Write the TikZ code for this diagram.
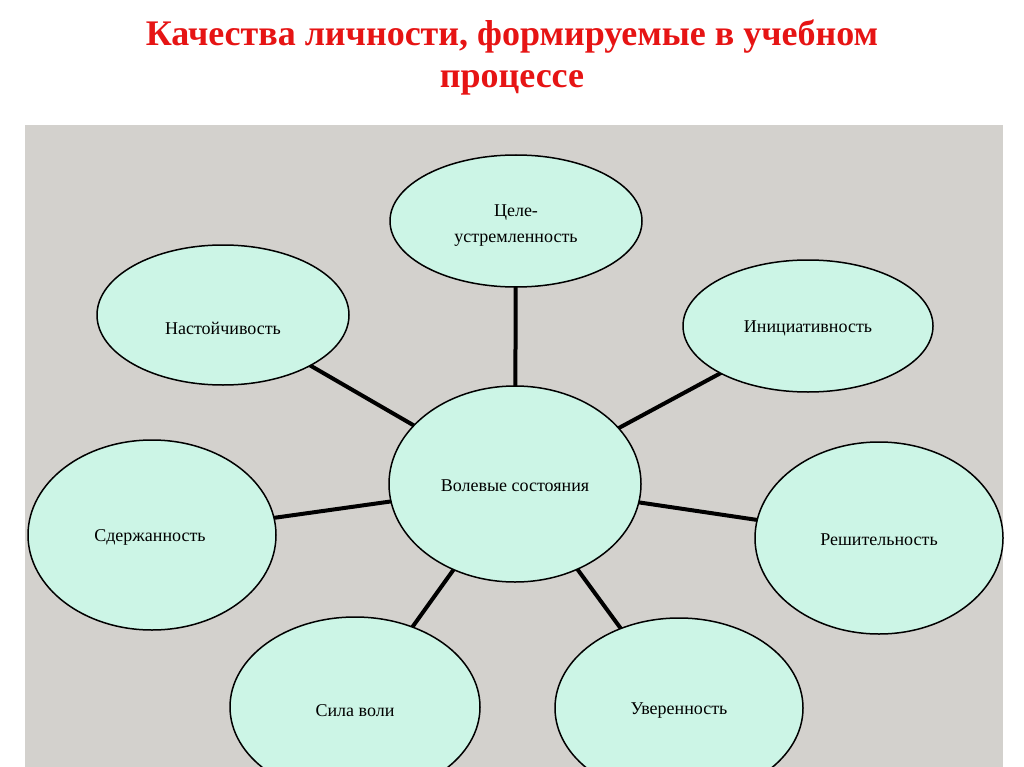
\documentclass[tikz,border=0pt]{standalone}
\usepackage{fontspec}
\setmainfont{Liberation Serif}
\usetikzlibrary{shapes.geometric}
\definecolor{bg}{RGB}{211,209,205}
\definecolor{mint}{RGB}{204,245,230}
\definecolor{ttl}{RGB}{230,20,20}
\tikzset{
 bub/.style={ellipse,draw=black,line width=1.5pt,fill=mint,minimum width=#1},
 lbl/.style={align=center,font=\fontsize{18}{26}\selectfont},
 link/.style={line width=4pt,black}
}
\begin{document}
\begin{tikzpicture}[x=1pt,y=-1pt]
\useasboundingbox (0,0) rectangle (1024,767);
\fill[bg] (25,125) rectangle (1003,767);
\node[font=\bfseries\fontsize{36}{42}\selectfont,text=ttl,align=center] (title) at (512,57) {Качества личности, формируемые в учебном\\процессе};
\coordinate (cc) at (515,484);
\draw[link] (cc) -- (516,210);
\draw[link] (cc) -- (223,315);
\draw[link] (cc) -- (808,326);
\draw[link] (cc) -- (152,535);
\draw[link] (cc) -- (879,538);
\draw[link] (cc) -- (355,707);
\draw[link] (cc) -- (679,708);
\node[bub=252pt,minimum height=132pt] (top) at (516,221) {};
\node[bub=252pt,minimum height=140pt] (nas) at (223,315) {};
\node[bub=250pt,minimum height=132pt] (ini) at (808,326) {};
\node[bub=252pt,minimum height=196pt] (c) at (cc) {};
\node[bub=248pt,minimum height=190pt] (sd) at (152,535) {};
\node[bub=248pt,minimum height=192pt] (re) at (879,538) {};
\node[bub=250pt,minimum height=180pt] (sv) at (355,707) {};
\node[bub=248pt,minimum height=180pt] (uv) at (679,708) {};
\node[lbl] at (516,226) {Целе-\\устремленность};
\node[lbl] at (223,328) {Настойчивость};
\node[lbl] at (808,328) {Инициативность};
\node[lbl] at (515,486) {Волевые состояния};
\node[lbl] at (150,537) {Сдержанность};
\node[lbl] at (879,540) {Решительность};
\node[lbl] at (355,711) {Сила воли};
\node[lbl] at (679,711) {Уверенность};
\end{tikzpicture}
\end{document}
